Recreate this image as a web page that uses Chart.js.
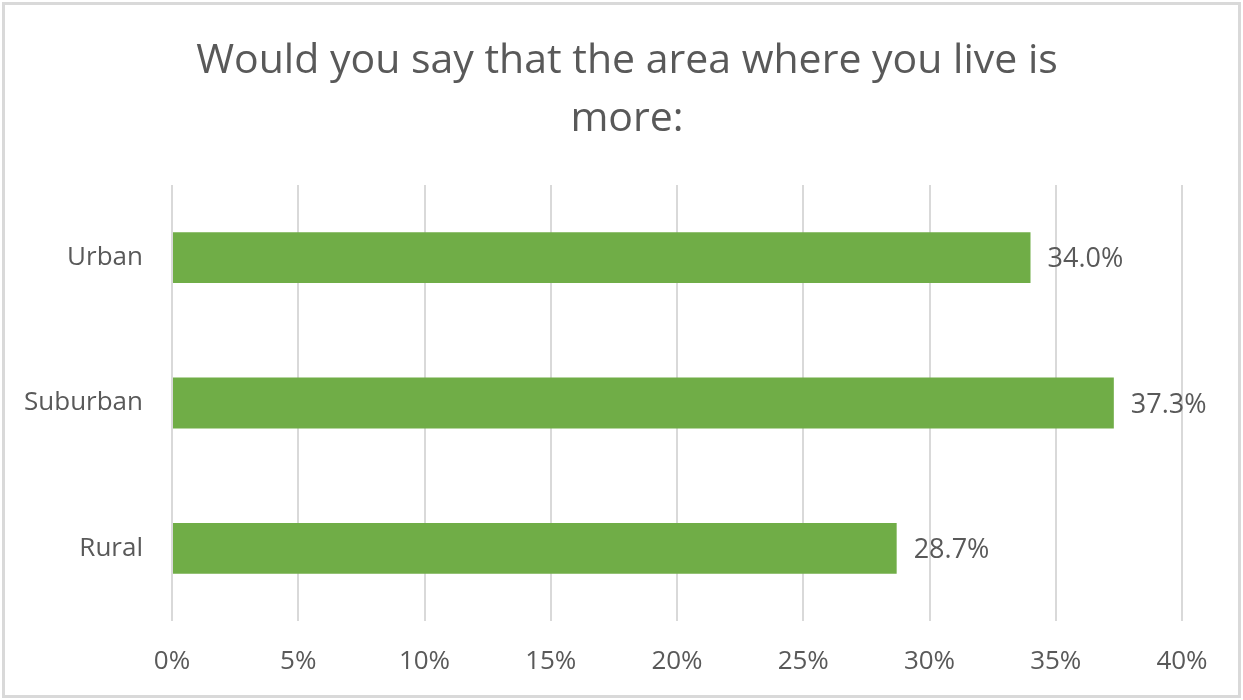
<!DOCTYPE html>
<html>
<head>
<meta charset="utf-8">
<script src="https://cdn.jsdelivr.net/npm/chart.js@4/dist/chart.umd.min.js"></script>
<style>
  html, body { margin: 0; padding: 0; background: #fff; }
  #wrap { position: relative; width: 1243px; height: 700px; }
  #frame { position: absolute; left: 2px; top: 2px; width: 1233px; height: 690px;
           border: 3px solid #d9d9d9; pointer-events: none; }
  canvas { position: absolute; left: 0; top: 0; }
</style>
</head>
<body>
<div id="wrap">
  <canvas id="chart" width="1243" height="700"></canvas>
  <div id="frame"></div>
</div>
<script>
// данные
const categories = ['Urban', 'Suburban', 'Rural'];
const shares = [34.0, 37.3, 28.7];
const tickValues = [0, 5, 10, 15, 20, 25, 30, 35, 40];
const titleLines = ['Would you say that the area where you live is', 'more:'];

const fontFamily = '"Open Sans", "Noto Sans", sans-serif';
const textColor = '#595959';

// заголовок центрирован по всей картинке, а не по области графика
const centeredTitle = {
  id: 'centeredTitle',
  afterDraw(chart) {
    const ctx = chart.ctx;
    ctx.save();
    ctx.font = '41px ' + fontFamily;
    ctx.fillStyle = textColor;
    ctx.textAlign = 'center';
    ctx.textBaseline = 'middle';
    titleLines.forEach(function (line, i) {
      ctx.fillText(line, 627, 61 + i * 58);
    });
    ctx.restore();
  }
};

// подписи значений справа от столбцов
const valueLabels = {
  id: 'valueLabels',
  afterDatasetsDraw(chart) {
    const ctx = chart.ctx;
    const meta = chart.getDatasetMeta(0);
    ctx.save();
    ctx.font = '27px ' + fontFamily;
    ctx.fillStyle = textColor;
    ctx.textAlign = 'left';
    ctx.textBaseline = 'middle';
    meta.data.forEach(function (bar, i) {
      ctx.fillText(shares[i].toFixed(1) + '%', bar.x + 17, bar.y + 2);
    });
    ctx.restore();
  }
};

new Chart(document.getElementById('chart').getContext('2d'), {
  type: 'bar',
  data: {
    labels: categories,
    datasets: [{
      data: shares,
      backgroundColor: '#70ad47',
      borderWidth: 0,
      categoryPercentage: 1,
      barPercentage: 0.35
    }]
  },
  options: {
    indexAxis: 'y',
    responsive: false,
    animation: false,
    layout: { padding: { left: 0, right: 61, top: 185, bottom: 0 } },
    plugins: {
      legend: { display: false },
      tooltip: { enabled: false },
      title: { display: false }
    },
    scales: {
      x: {
        min: 0,
        max: 40,
        afterBuildTicks(axis) { axis.ticks = tickValues.map(v => ({ value: v })); },
        afterFit(axis) { axis.height = 79; },
        grid: { color: '#d9d9d9', lineWidth: 2, drawTicks: false },
        border: { display: false },
        ticks: {
          color: textColor,
          padding: 25,
          font: { family: fontFamily, size: 26 },
          callback: v => v + '%'
        }
      },
      y: {
        afterFit(axis) { axis.width = 172; },
        grid: { display: false, drawTicks: false },
        border: { display: false },
        ticks: {
          color: textColor,
          padding: 29,
          font: { family: fontFamily, size: 26 }
        }
      }
    }
  },
  plugins: [valueLabels, centeredTitle]
});
</script>
</body>
</html>
